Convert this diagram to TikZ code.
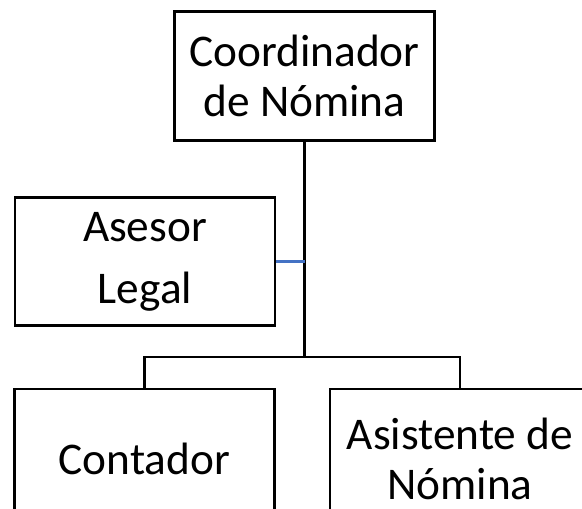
\documentclass[tikz,border=0pt]{standalone}
\usepackage{fontspec}
\setmainfont{Carlito}
\usetikzlibrary{positioning,calc}

\begin{document}
\begin{tikzpicture}[
    x=0.75pt, y=-0.75pt,
    box/.style={rectangle, draw, line width=2.2pt, minimum width=195pt, inner sep=0pt, align=center},
    link/.style={draw, line width=1.6pt},
    bluelink/.style={draw, line width=1.6pt, color={rgb,255:red,68;green,114;blue,196}}
]
    \useasboundingbox (0,0) rectangle (582,509);
    \clip (0,0) rectangle (582,509);

    \node[box, minimum height=97pt, font=\fontsize{34}{37.5}\selectfont] (coord) at (304.5,76) {Coordinador\\de Nómina};
    \node[box, minimum height=96pt, font=\fontsize{34}{46.5}\selectfont] (asesor) at (145,261.5) {Asesor\\Legal};
    \node[box, minimum height=105pt, font=\fontsize{34}{37.5}\selectfont] (conta) at (144.5,459) {Contador};
    \node[box, minimum height=105pt, font=\fontsize{34}{37.5}\selectfont] (asist) at (460,459) {Asistente de\\Nómina};

    % branches
    \coordinate (bar) at ($(coord.south)+(0,215)$);
    \draw[link] (coord.south) -- (bar);
    \draw[link] (conta.north) |- (bar) -| (asist.north);
    \draw[bluelink] (asesor.east) -- (asesor.east -| coord.south);
\end{tikzpicture}
\end{document}
